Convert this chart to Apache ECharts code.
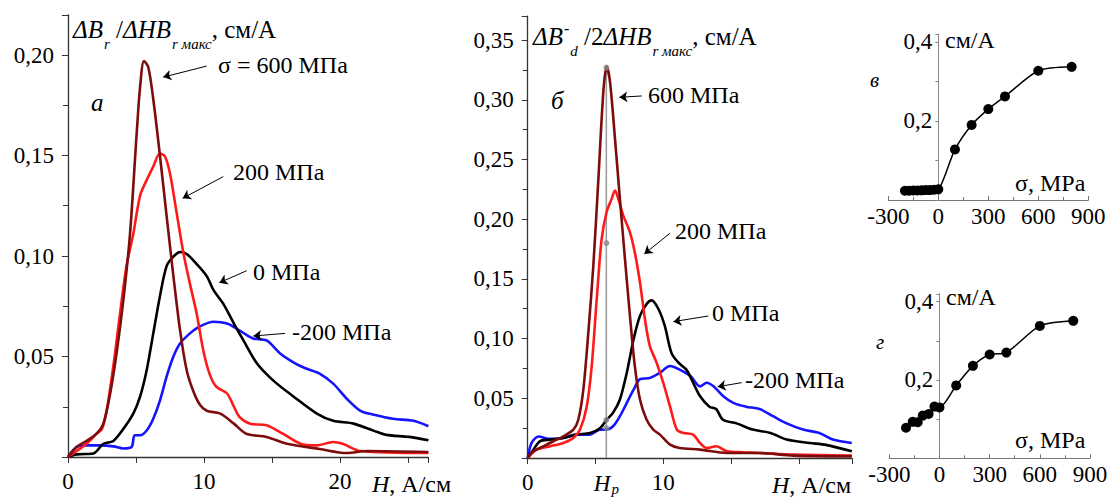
<!DOCTYPE html>
<html><head><meta charset="utf-8">
<script src="https://cdn.jsdelivr.net/npm/echarts@6/dist/echarts.min.js"></script>
<style>html,body{margin:0;padding:0;background:#fff}#c{width:1112px;height:498px}</style>
</head><body><div id="c"></div>
<script>
// ---- Panel а: ΔBr/ΔH·Br max vs H (A/cm)
const a600 = [[0,0],[0.64,0.005],[1.37,0.008],[2.1,0.0116],[2.6,0.0166],[3.1,0.0316],[3.6,0.053],[4.07,0.078],[4.56,0.111],[5.05,0.161],[5.3,0.184],[5.59,0.197],[5.9,0.194],[6.27,0.178],[6.76,0.150],[7.25,0.120],[7.75,0.090],[8.24,0.063],[8.73,0.043],[9.2,0.033],[9.7,0.026],[10.2,0.023],[11.2,0.0216],[12.2,0.0166],[13.1,0.0116],[14.6,0.010],[16.1,0.0066],[18.5,0.004],[20.5,0.002],[22,0.003],[26.5,0.0025]];
const a200 = [[0,0],[0.64,0.003],[1.37,0.0066],[2.1,0.0116],[2.5,0.014],[2.84,0.023],[3.33,0.045],[3.8,0.070],[4.3,0.095],[4.8,0.111],[5.3,0.130],[5.8,0.138],[6.27,0.1445],[6.76,0.151],[7.13,0.1495],[7.5,0.141],[8.0,0.121],[8.5,0.101],[8.97,0.086],[9.46,0.0714],[9.95,0.053],[10.4,0.0415],[10.9,0.035],[11.7,0.0316],[12.2,0.025],[12.6,0.020],[13.4,0.0166],[14.6,0.0158],[15.8,0.0116],[17.1,0.0066],[18.3,0.0058],[19.5,0.0075],[20.2,0.0066],[21.5,0.003],[26.5,0.002]];
const a0 = [[0,0],[0.64,0.0013],[1.86,0.0017],[2.6,0.0066],[3.33,0.008],[4.07,0.014],[4.8,0.0216],[5.3,0.030],[5.78,0.043],[6.27,0.0615],[6.76,0.080],[7.25,0.095],[7.75,0.0997],[8.24,0.102],[8.73,0.101],[9.46,0.096],[10.2,0.090],[10.7,0.083],[11.4,0.0764],[12.2,0.0664],[12.9,0.058],[13.9,0.0465],[15.1,0.038],[16.6,0.030],[18.3,0.0216],[19.5,0.018],[21,0.0166],[22.5,0.013],[23.4,0.011],[25.1,0.010],[26.5,0.0083]];
const aM200 = [[0,0],[0.64,0.005],[1.37,0.0058],[2.35,0.0058],[3.33,0.0053],[4.07,0.0042],[4.68,0.005],[4.9,0.0108],[5.3,0.0108],[5.8,0.0133],[6.27,0.019],[6.76,0.028],[7.25,0.040],[7.75,0.050],[8.24,0.0565],[8.97,0.0615],[9.7,0.065],[10.7,0.0673],[11.7,0.0664],[12.6,0.063],[13.6,0.059],[14.6,0.058],[15.6,0.0515],[16.6,0.047],[17.5,0.044],[18.5,0.0415],[19.5,0.0365],[20.5,0.029],[21.5,0.023],[22.5,0.021],[23.9,0.019],[25.4,0.018],[26.5,0.0153]];
// ---- Panel б: ΔB-d/2ΔH·Br max vs H
const b600 = [[0,0],[0.42,0.0056],[1.15,0.0098],[1.9,0.014],[2.6,0.018],[3.37,0.0238],[3.73,0.032],[4.1,0.057],[4.47,0.105],[4.84,0.161],[5.2,0.231],[5.58,0.307],[5.82,0.328],[6.07,0.315],[6.44,0.267],[6.8,0.217],[7.17,0.167],[7.54,0.119],[7.9,0.077],[8.28,0.049],[8.77,0.032],[9.26,0.0238],[9.75,0.0196],[10.5,0.0112],[11.2,0.0084],[12.7,0.007],[14.7,0.0042],[17.1,0.0042],[19.6,0.002],[23.9,0.0014]];
const b200 = [[0,0],[0.66,0.007],[1.65,0.0098],[2.63,0.0126],[3.37,0.0168],[3.86,0.0238],[4.35,0.043],[4.72,0.077],[5.09,0.133],[5.45,0.183],[5.82,0.206],[6.19,0.217],[6.44,0.224],[6.68,0.217],[7.05,0.203],[7.54,0.189],[7.9,0.172],[8.28,0.147],[8.65,0.116],[9.0,0.094],[9.5,0.080],[10.0,0.063],[10.5,0.043],[11.0,0.0238],[11.5,0.021],[12.2,0.0196],[12.7,0.0126],[13.2,0.0084],[13.9,0.0098],[14.7,0.0056],[15.9,0.0048],[17.1,0.0042],[19.6,0.0028],[23.9,0.002]];
const b0 = [[0,0],[0.42,0.007],[0.9,0.014],[1.65,0.0154],[2.63,0.0168],[3.6,0.0196],[4.6,0.021],[5.33,0.025],[5.82,0.032],[6.3,0.038],[6.8,0.049],[7.3,0.071],[7.8,0.099],[8.28,0.119],[8.77,0.129],[9.14,0.132],[9.63,0.125],[10.1,0.111],[10.6,0.088],[11.1,0.080],[11.7,0.074],[12.2,0.063],[12.7,0.052],[13.4,0.043],[13.9,0.041],[14.4,0.032],[15.4,0.029],[16.6,0.0238],[17.9,0.021],[19.1,0.0154],[20.8,0.0126],[22,0.011],[23.9,0.0056]];
const bM200 = [[0,0],[0.29,0.0126],[0.79,0.018],[1.65,0.016],[2.63,0.0168],[3.6,0.0196],[4.6,0.0196],[5.33,0.0238],[5.82,0.0238],[6.3,0.0266],[6.8,0.035],[7.3,0.046],[7.8,0.057],[8.28,0.066],[9.0,0.067],[9.75,0.0714],[10.5,0.077],[11.2,0.074],[12.0,0.0686],[12.7,0.060],[13.2,0.063],[13.7,0.060],[14.4,0.052],[15.2,0.046],[16.1,0.043],[17.1,0.041],[18.1,0.035],[19.1,0.029],[20.3,0.0238],[21.5,0.021],[22.5,0.0154],[23.9,0.0126]];
const hp = 5.8;
const hpTop = 0.328;
const hpDots = [0.327, 0.18, 0.032, 0.025];
// ---- Panel в and г: value vs σ (MPa)
const vSigma = [-200,-175,-150,-125,-100,-75,-50,-25,0,100,200,300,400,600,800];
const vVal   = [0.0235,0.0235,0.024,0.024,0.0245,0.025,0.025,0.026,0.027,0.128,0.19,0.23,0.262,0.327,0.337];
const gSigma = [-200,-160,-130,-100,-65,-30,0,100,200,300,400,600,800];
const gVal   = [0.078,0.093,0.092,0.109,0.113,0.132,0.130,0.186,0.236,0.265,0.270,0.338,0.351];
// tick labels
const xTicksB = [0, hp, 10];

const F = "'Liberation Serif', 'Times New Roman', serif";
const C = {dr:'#7d0c0c', r:'#ff1a1a', k:'#000000', b:'#1414ff'};
const rich = {
  i:{fontFamily:F,fontStyle:'italic',fontSize:25,fill:'#000'},
  n:{fontFamily:F,fontSize:25,fill:'#000'},
  sub:{fontFamily:F,fontStyle:'italic',fontSize:15,padding:[30,0,0,1],fill:'#000'},
  sup:{fontFamily:F,fontSize:16,padding:[0,0,16,1],fill:'#000'},
  hi:{fontFamily:F,fontStyle:'italic',fontSize:24,fill:'#000'},
  hn:{fontFamily:F,fontSize:24,fill:'#000'}
};
const comma = (v,d) => v.toFixed(d).replace('.', ',');
function txt(x,y,text,st){
  return {type:'text',x:x,y:y,silent:true,style:Object.assign({text:text,fontFamily:F,fontSize:24,fill:'#000',verticalAlign:'middle',align:'left',rich:rich},st||{})};
}
function arrow(p1,p2){return [{coord:p1},{coord:p2}];}
const ml = (arr) => ({silent:true,symbol:['none','arrow'],symbolSize:8,animation:false,
  lineStyle:{color:'#000',width:1,type:'solid'},label:{show:false},emphasis:{disabled:true},data:arr});

const axLine = {onZero:false,lineStyle:{color:'#333',width:1.3}};
const lab = {fontFamily:F,fontSize:23,color:'#000'};

function curve(data,color,xi,mark){
  const s = {type:'line',xAxisIndex:xi,yAxisIndex:xi,data:data,smooth:0.3,showSymbol:false,symbol:'none',
    lineStyle:{color:color,width:2.6},itemStyle:{color:color},z:3,animation:false};
  if(mark) s.markLine = ml(mark);
  return s;
}
const zipv = (xs,ys)=>xs.map((x,i)=>[x,ys[i]]);
const yFmt = (step,d)=>v=>{const k=v/step;return (v>0&&Math.abs(k-Math.round(k))<1e-6)?comma(v,d):'';};

const option = {
  animation:false,
  backgroundColor:'#fff',
  grid:[
    {left:68,top:14.8,width:360.4,height:442.2,outerBoundsMode:'none'},
    {left:527.7,top:16.2,width:324.1,height:441.8,outerBoundsMode:'none'},
    {left:888.3,top:34,width:200,height:166,outerBoundsMode:'none'},
    {left:889.3,top:293.8,width:200.7,height:164.5,outerBoundsMode:'none'}
  ],
  xAxis:[
    {gridIndex:0,type:'value',min:0,max:26.5,interval:10,axisLine:axLine,splitLine:{show:false},
     axisTick:{length:6,lineStyle:{color:'#333'}},minorTick:{show:true,splitNumber:2,length:6,lineStyle:{color:'#333'}},
     axisLabel:Object.assign({margin:13,showMaxLabel:false,formatter:v=>(v%10===0?String(v):'')},lab)},
    {gridIndex:1,type:'value',min:0,max:23.9,interval:10,axisLine:axLine,splitLine:{show:false},
     axisTick:{length:6,lineStyle:{color:'#333'}},minorTick:{show:true,splitNumber:2,length:6,lineStyle:{color:'#333'}},
     axisLabel:Object.assign({margin:13,customValues:xTicksB,
       formatter:v=>(Math.abs(v-hp)<1e-6?'{i|H}{p|p}':String(v)),
       rich:{i:{fontFamily:F,fontStyle:'italic',fontSize:23,color:'#000'},p:{fontFamily:F,fontStyle:'italic',fontSize:15,color:'#000',padding:[10,0,0,1]}}},lab)},
    {gridIndex:2,type:'value',min:-300,max:900,interval:300,axisLine:{onZero:false,lineStyle:{color:'#777',width:1}},splitLine:{show:false},
     axisTick:{inside:true,length:4,lineStyle:{color:'#777'}},minorTick:{show:true,splitNumber:2,length:3,lineStyle:{color:'#777'}},
     axisLabel:Object.assign({margin:5},lab)},
    {gridIndex:3,type:'value',min:-300,max:900,interval:300,axisLine:{onZero:false,lineStyle:{color:'#777',width:1}},splitLine:{show:false},
     axisTick:{inside:true,length:4,lineStyle:{color:'#777'}},minorTick:{show:true,splitNumber:2,length:3,lineStyle:{color:'#777'}},
     axisLabel:Object.assign({margin:5},lab)}
  ],
  yAxis:[
    {gridIndex:0,type:'value',min:0,max:0.22,interval:0.05,axisLine:axLine,splitLine:{show:false},
     axisTick:{length:6,lineStyle:{color:'#333'}},minorTick:{show:true,splitNumber:2,length:5,lineStyle:{color:'#333'}},
     axisLabel:Object.assign({margin:14,formatter:yFmt(0.05,2)},lab)},
    {gridIndex:1,type:'value',min:0,max:0.37,interval:0.05,axisLine:axLine,splitLine:{show:false},
     axisTick:{length:6,lineStyle:{color:'#333'}},minorTick:{show:true,splitNumber:2,length:5,lineStyle:{color:'#333'}},
     axisLabel:Object.assign({margin:14,formatter:yFmt(0.05,2)},lab)},
    {gridIndex:2,type:'value',min:0,max:0.42,interval:0.2,offset:-50,axisLine:{onZero:false,lineStyle:{color:'#888',width:1}},splitLine:{show:false},
     axisTick:{length:3,lineStyle:{color:'#888'}},minorTick:{show:true,splitNumber:2,length:3,lineStyle:{color:'#888'}},
     axisLabel:Object.assign({margin:6,formatter:yFmt(0.2,1)},lab)},
    {gridIndex:3,type:'value',min:0,max:0.42,interval:0.2,offset:-50,axisLine:{onZero:false,lineStyle:{color:'#888',width:1}},splitLine:{show:false},
     axisTick:{length:3,lineStyle:{color:'#888'}},minorTick:{show:true,splitNumber:2,length:3,lineStyle:{color:'#888'}},
     axisLabel:Object.assign({margin:6,formatter:yFmt(0.2,1)},lab)}
  ],
  series:[
    curve(aM200,C.b,0,[arrow([15.96,0.0615],[13.63,0.0602])]),
    curve(a0,C.k,0,[arrow([13.14,0.0927],[11.13,0.0867])]),
    curve(a200,C.r,0,[arrow([11.42,0.1395],[8.43,0.1287])]),
    curve(a600,C.dr,0,[arrow([10.2,0.1945],[7.0,0.189])]),
    {type:'line',xAxisIndex:1,yAxisIndex:1,data:[[hp,0],[hp,hpTop]],showSymbol:false,symbol:'none',
     lineStyle:{color:'#9a9a9a',width:1.5},z:2,animation:false},
    curve(bM200,C.b,1,[arrow([15.78,0.0631],[14.01,0.0597])]),
    curve(b0,C.k,1,[arrow([13.32,0.1189],[10.74,0.1142])]),
    curve(b200,C.r,1,[arrow([10.49,0.1882],[8.6,0.1709])]),
    curve(b600,C.dr,1,[arrow([8.41,0.3032],[6.76,0.3021])]),
    {type:'scatter',xAxisIndex:1,yAxisIndex:1,data:hpDots.map(v=>[hp,v]),symbolSize:6,
     itemStyle:{color:'#8a8a8a'},z:10,animation:false},
    {type:'line',xAxisIndex:2,yAxisIndex:2,data:zipv(vSigma,vVal),smooth:0.25,symbol:'circle',symbolSize:10,
     lineStyle:{color:'#000',width:1.5},itemStyle:{color:'#000'},animation:false},
    {type:'line',xAxisIndex:3,yAxisIndex:3,data:zipv(gSigma,gVal),smooth:0.25,symbol:'circle',symbolSize:10,
     lineStyle:{color:'#000',width:1.5},itemStyle:{color:'#000'},animation:false}
  ],
  graphic:[
    txt(73,29,'{i|ΔB}{sub|r}{n| /}{i|ΔHB}{sub|r макс}{n|, см/А}'),
    txt(91,102,'а',{fontStyle:'italic',fontSize:25}),
    txt(218,65,'σ = 600 МПа'),
    txt(233,172,'200 МПа'),
    txt(253,272,'0 МПа'),
    txt(292,332,'-200 МПа'),
    txt(372,484,'{hi|H}{hn|, А/см}'),
    txt(533,36,'{i|ΔB}{sup|-}{sub|d}{n| /2}{i|ΔHB}{sub|r макс}{n|, см/А}'),
    txt(551,100,'б',{fontStyle:'italic',fontSize:25}),
    txt(648,95,'600 МПа'),
    txt(675,231,'200 МПа'),
    txt(712,313,'0 МПа'),
    txt(745,380,'-200 МПа'),
    txt(772,485,'{hi|H}{hn|, А/см}'),
    txt(870,80,'в',{fontStyle:'italic',fontSize:21}),
    txt(945,40,'см/А'),
    txt(1015,183,'σ, MPa'),
    txt(876,342,'г',{fontStyle:'italic',fontSize:21}),
    txt(946,297,'см/А'),
    txt(1015,440,'σ, MPa')
  ]
};
const chart = echarts.init(document.getElementById('c'),null,{renderer:'svg'});
chart.setOption(option);
</script></body></html>
